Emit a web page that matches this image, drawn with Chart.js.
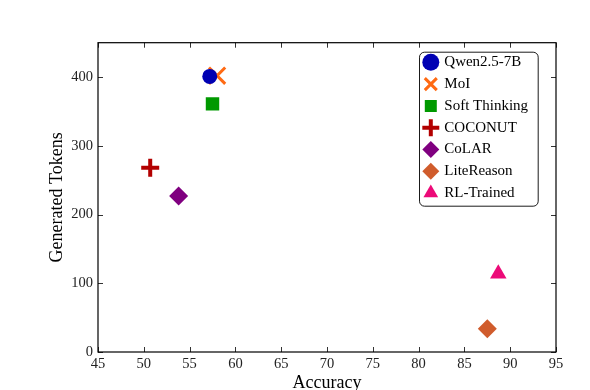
<!DOCTYPE html>
<html>
<head>
<meta charset="utf-8">
<script src="https://cdn.jsdelivr.net/npm/chart.js@4.4.1/dist/chart.umd.min.js"></script>
<style>
    body { margin: 0; background: #fff; }
    #wrap { width: 590px; height: 390px; }
</style>
</head>
<body>
<div id="wrap"><canvas id="myChart" width="590" height="390"></canvas></div>
<script>
    // data
    const methods = ['Qwen2.5-7B', 'MoI', 'Soft Thinking', 'COCONUT', 'CoLAR', 'LiteReason', 'RL-Trained']
    const accuracy = [57.2, 58.0, 57.5, 50.7, 53.8, 87.5, 88.7]
    const tokens = [401, 402, 361, 268, 227, 34, 114]
    const markers = ['circle', 'crossRot', 'rect', 'cross', 'rectRot', 'rectRot', 'triangle']
    const colors = ['#0000b3', '#ff6a13', '#009900', '#b30000', '#800080', '#d05c2c', '#ec0a78']
    const sizes = [7.5, 11.5, 9.5, 9, 9.5, 9.5, 9.5]
    const lineWidths = [0, 3, 0, 4, 0, 0, 0]
    const xTicks = [45, 50, 55, 60, 65, 70, 75, 80, 85, 90, 95]
    const yTicks = [0, 100, 200, 300, 400]

    const serif = "'Liberation Serif', 'Times New Roman', serif"
    Chart.defaults.font.family = serif
    Chart.defaults.color = '#000'

    const datasets = methods.map((name, i) => ({
        label: name,
        data: [{ x: accuracy[i], y: tokens[i] }],
        pointStyle: markers[i],
        pointRadius: sizes[i],
        pointHoverRadius: sizes[i],
        backgroundColor: colors[i],
        borderColor: colors[i],
        borderWidth: lineWidths[i],
        pointBorderWidth: lineWidths[i]
    }))

    // inward ticks on all four sides + the frame, like pgfplots
    const frameTicks = {
        id: 'frameTicks',
        afterDraw(chart) {
            const c = chart.ctx
            const a = chart.chartArea
            const xs = chart.scales.x
            const ys = chart.scales.y
            c.save()
            c.strokeStyle = '#333'
            c.lineWidth = 1
            c.beginPath()
            xTicks.forEach(v => {
                const px = Math.round(xs.getPixelForValue(v)) + 0.5
                c.moveTo(px, a.bottom); c.lineTo(px, a.bottom - 5)
                c.moveTo(px, a.top); c.lineTo(px, a.top + 5)
            })
            yTicks.forEach(v => {
                const py = Math.round(ys.getPixelForValue(v)) + 0.5
                c.moveTo(a.left, py); c.lineTo(a.left + 5, py)
                c.moveTo(a.right, py); c.lineTo(a.right - 5, py)
            })
            c.stroke()
            c.strokeStyle = '#000'
            c.lineWidth = 1.2
            c.strokeRect(a.left, a.top, a.right - a.left, a.bottom - a.top)
            c.restore()
        }
    }

    // move the legend to the upper right inside the plot and give it a rounded box
    const legendBox = {
        id: 'legendBox',
        afterLayout(chart) {
            const lg = chart.legend
            const a = chart.chartArea
            lg.left = a.right - 138
            lg.top = a.top + 5.3
        },
        beforeDraw(chart) {
            const a = chart.chartArea
            const c = chart.ctx
            const x = a.right - 137, y = a.top + 9, w = 118.7, h = 154
            c.save()
            c.fillStyle = '#fff'
            c.strokeStyle = '#000'
            c.lineWidth = 0.9
            c.beginPath()
            c.roundRect(x + 0.5, y + 0.5, w, h, 5)
            c.fill()
            c.stroke()
            c.restore()
        }
    }

    var ctx = document.getElementById('myChart').getContext('2d');
    var myChart = new Chart(ctx, {
        type: 'scatter',
        data: { datasets: datasets },
        plugins: [frameTicks, legendBox],
        options: {
            responsive: false,
            animation: false,
            layout: { padding: { left: 0, right: 34, top: 42.7, bottom: 0 } },
            plugins: {
                tooltip: { enabled: false },
                legend: {
                    position: 'chartArea',
                    align: 'start',
                    labels: {
                        usePointStyle: true,
                        boxWidth: 12,
                        boxHeight: 12,
                        padding: 6.8,
                        color: '#000',
                        font: { family: serif, size: 15 }
                    }
                }
            },
            scales: {
                x: {
                    type: 'linear',
                    min: 45,
                    max: 95,
                    afterFit: s => { s.height = 38 },
                    afterBuildTicks: s => { s.ticks = xTicks.map(v => ({ value: v })) },
                    grid: { display: false, drawTicks: false },
                    border: { display: false },
                    ticks: { color: '#222', padding: 3, font: { family: serif, size: 14.5 } },
                    title: {
                        display: true,
                        text: 'Accuracy',
                        color: '#000',
                        padding: { top: 0, bottom: -2 },
                        font: { family: serif, size: 18, lineHeight: 1 }
                    }
                },
                y: {
                    type: 'linear',
                    min: 0,
                    max: 450,
                    afterFit: s => { s.width = 98 },
                    afterBuildTicks: s => { s.ticks = yTicks.map(v => ({ value: v })) },
                    grid: { display: false, drawTicks: false },
                    border: { display: false },
                    ticks: { color: '#222', padding: 5, font: { family: serif, size: 14.5 } },
                    title: {
                        display: true,
                        text: 'Generated Tokens',
                        color: '#000',
                        padding: { top: 48, bottom: 0 },
                        font: { family: serif, size: 18, lineHeight: 1 }
                    }
                }
            }
        }
    });
</script>
</body>
</html>
